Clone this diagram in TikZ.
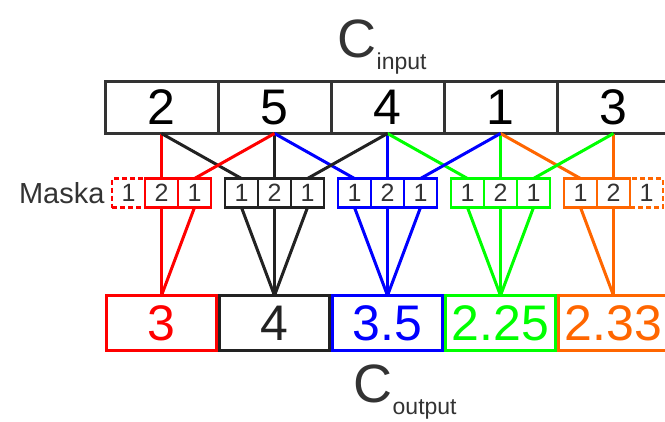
\documentclass[tikz,border=0pt]{standalone}
\usepackage{fontspec}
\setmainfont{Liberation Sans}
\usetikzlibrary{positioning}

\definecolor{cred}{RGB}{255,0,0}
\definecolor{cblack}{RGB}{34,34,34}
\definecolor{cblue}{RGB}{0,0,255}
\definecolor{cgreen}{RGB}{0,255,0}
\definecolor{corange}{RGB}{255,102,0}
\definecolor{cgray}{RGB}{51,51,51}

\begin{document}
\begin{tikzpicture}[
  x=1pt, y=-1pt,
  incell/.style={draw=cgray, line width=3pt, minimum width=113pt, minimum height=52pt,
    inner sep=0pt, outer sep=0pt, font=\fontsize{50}{50}\selectfont},
  maskcell/.style={line width=2.8pt, minimum width=33pt, minimum height=29pt,
    inner sep=0pt, outer sep=0pt, text=cgray, font=\fontsize{25}{25}\selectfont},
  maskdash/.style={maskcell, dash pattern=on 5pt off 3pt},
  outcell/.style={line width=3pt, minimum width=110pt, minimum height=55pt,
    inner sep=0pt, outer sep=0pt, font=\fontsize{50}{50}\selectfont},
  biglabel/.style={anchor=base west, inner sep=0pt, text=cgray},
  link/.style={line width=3pt},
]
  \clip (0,0) rectangle (665,421);

  % input row
  \foreach \k/\val in {1/2,2/5,3/4,4/1,5/3}
    \node[incell] (in\k) at ({161.5+113*(\k-1)},107.5) {\val};

  % masks and results
  \foreach \k/\col/\res/\lst/\rst in {1/cred/3/maskdash/maskcell,
      2/cblack/4/maskcell/maskcell, 3/cblue/3.5/maskcell/maskcell,
      4/cgreen/2.25/maskcell/maskcell, 5/corange/2.33/maskcell/maskdash} {
    \node[maskcell, draw=\col] (mask\k-c) at ({161.5+113*(\k-1)},193) {2};
    \node[\lst, draw=\col, left=0pt of mask\k-c] (mask\k-l) {1};
    \node[\rst, draw=\col, right=0pt of mask\k-c] (mask\k-r) {1};
    \node[outcell, draw=\col, text=\col] (out\k) at ({161.5+113*(\k-1)},323) {\res};
  }

  \node[text=cgray, font=\fontsize{29}{29}\selectfont, left=4pt of mask1-l] (maska) {Maska};

  % connectors
  \foreach \k/\col in {1/cred,2/cblack,3/cblue,4/cgreen,5/corange} {
    \draw[link, \col] (in\k.south) -- (mask\k-c.north);
    \draw[link, \col] (mask\k-c.south) -- (out\k.north);
  }
  \foreach \k/\col in {2/cblack,3/cblue,4/cgreen,5/corange} {
    \pgfmathtruncatemacro\j{\k-1}
    \draw[link, \col] (in\j.south) -- (mask\k-l.north);
    \draw[link, \col] (mask\k-l.south) -- (out\k.north);
  }
  \foreach \k/\col in {1/cred,2/cblack,3/cblue,4/cgreen} {
    \pgfmathtruncatemacro\j{\k+1}
    \draw[link, \col] (in\j.south) -- (mask\k-r.north);
    \draw[link, \col] (mask\k-r.south) -- (out\k.north);
  }

  % titles
  \node[biglabel] (cin) at (337.5,57)
    {\fontsize{54}{54}\selectfont C\fontsize{23}{23}\selectfont\raisebox{-12pt}{input}};
  \node[biglabel] (cout) at (353.5,402)
    {\fontsize{54}{54}\selectfont C\fontsize{23}{23}\selectfont\raisebox{-12pt}{output}};
\end{tikzpicture}
\end{document}
